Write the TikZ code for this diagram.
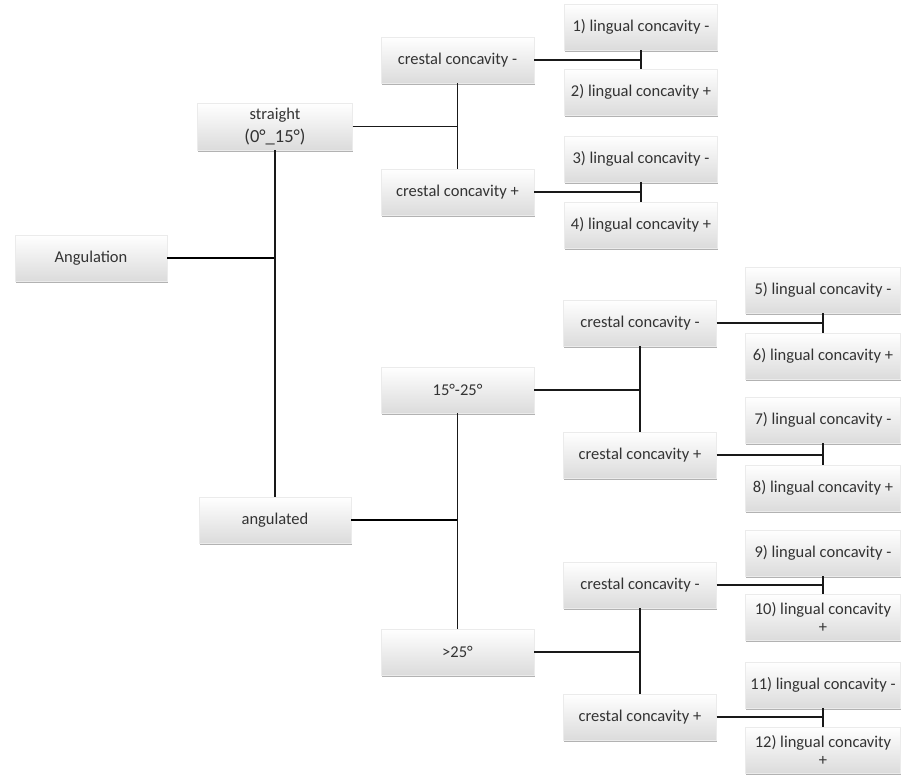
\documentclass[tikz,border=0pt]{standalone}
\usepackage{fontspec}
\setmainfont{Carlito}
\usetikzlibrary{shadows}
\begin{document}
\begin{tikzpicture}[x=1pt,y=-1pt,
  box/.style={shade, top color=white, bottom color=black!14, draw=black!8,
    minimum width=153pt, minimum height=46pt, inner sep=2pt, align=center,
    text=black!80, font=\fontsize{16.5}{18}\selectfont,
    drop shadow={shadow xshift=0.6pt, shadow yshift=-2.4pt, opacity=0.5, fill=black!60}},
  conn/.style={draw=black!90, line width=1.8pt},
  thick conn/.style={draw=black, line width=2.2pt}]
\useasboundingbox (0,0) rectangle (901,778);
% level 0-1
\node[box, minimum width=152pt] (ang) at (91,258) {Angulation};
\node[box, minimum width=155pt, minimum height=47pt, inner sep=1pt] (str) at (275,126.5)
  {straight\\[5pt]{\fontsize{18.5}{18}\selectfont(0°\_15°)}};
\node[box, minimum width=152pt] (angd) at (275,520) {angulated};
% level 2
\node[box] (cm1) at (457.5,60) {crestal concavity -};
\node[box] (cp1) at (457.5,192) {crestal concavity +};
\node[box] (a1525) at (457.5,390) {15°-25°};
\node[box] (a25) at (457.5,652) {>25°};
% level 3
\node[box] (cm2) at (640,323) {crestal concavity -};
\node[box] (cp2) at (640,455) {crestal concavity +};
\node[box] (cm3) at (640,585) {crestal concavity -};
\node[box] (cp3) at (640,717) {crestal concavity +};
% leaves
\node[box] (l1) at (641,27) {1) lingual concavity -};
\node[box] (l2) at (641,92) {2) lingual concavity +};
\node[box] (l3) at (641,159) {3) lingual concavity -};
\node[box] (l4) at (641,225) {4) lingual concavity +};
\node[box, minimum width=155pt] (l5) at (823,290) {5) lingual concavity -};
\node[box, minimum width=155pt] (l6) at (823,356) {6) lingual concavity +};
\node[box, minimum width=155pt] (l7) at (823,420) {7) lingual concavity -};
\node[box, minimum width=155pt] (l8) at (823,488) {8) lingual concavity +};
\node[box, minimum width=155pt] (l9) at (823,553) {9) lingual concavity -};
\node[box, minimum width=155pt] (l10) at (823,617) {10) lingual concavity\\+};
\node[box, minimum width=155pt] (l11) at (823,685) {11) lingual concavity -};
\node[box, minimum width=155pt] (l12) at (823,750) {12) lingual concavity\\+};
% connectors
\draw[thick conn] (ang.east) -- (ang.east -| str.south);
\draw[conn] (str.south) -- (angd.north);
\draw[conn] (str.east) -- (str.east -| cm1.south);
\draw[conn] (cm1.south) -- (cp1.north);
\draw[thick conn] (angd.east) -- (angd.east -| a1525.south);
\draw[conn] (a1525.south) -- (a25.north);
\draw[conn] (a1525.east) -- (a1525.east -| cm2.south);
\draw[conn] (cm2.south) -- (cp2.north);
\draw[conn] (a25.east) -- (a25.east -| cm3.south);
\draw[conn] (cm3.south) -- (cp3.north);
% leaf pairs
\draw[conn] (cm1.east) -- (cm1.east -| l1.south);
\draw[conn] (l1.south) -- (l2.north);
\draw[conn] (cp1.east) -- (cp1.east -| l3.south);
\draw[conn] (l3.south) -- (l4.north);
\draw[conn] (cm2.east) -- (cm2.east -| l5.south);
\draw[conn] (l5.south) -- (l6.north);
\draw[conn] (cp2.east) -- (cp2.east -| l7.south);
\draw[conn] (l7.south) -- (l8.north);
\draw[conn] (cm3.east) -- (cm3.east -| l9.south);
\draw[conn] (l9.south) -- (l10.north);
\draw[conn] (cp3.east) -- (cp3.east -| l11.south);
\draw[conn] (l11.south) -- (l12.north);
\end{tikzpicture}
\end{document}
